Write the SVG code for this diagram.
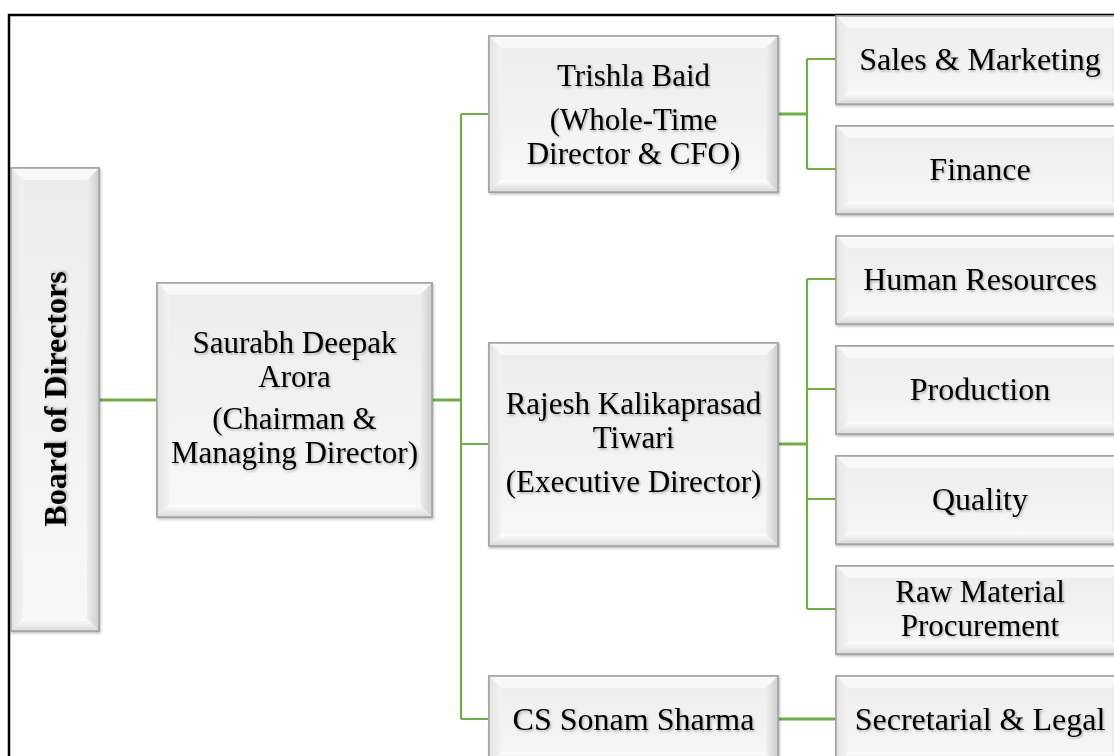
<svg xmlns="http://www.w3.org/2000/svg" width="1114" height="756" viewBox="0 0 1114 756">
<defs>
<linearGradient id="face" x1="0" y1="0" x2="0" y2="1"><stop offset="0" stop-color="#ececec"/><stop offset="1" stop-color="#f8f8f8"/></linearGradient>
<linearGradient id="bot" x1="0" y1="0" x2="0" y2="1"><stop offset="0" stop-color="#ffffff"/><stop offset="1" stop-color="#d9d9d9"/></linearGradient>
<linearGradient id="rgt" x1="0" y1="0" x2="1" y2="0"><stop offset="0" stop-color="#efefef"/><stop offset="1" stop-color="#cdcdcd"/></linearGradient>
<linearGradient id="lft" x1="0" y1="0" x2="1" y2="0"><stop offset="0" stop-color="#e4e4e4"/><stop offset="1" stop-color="#f2f2f2"/></linearGradient>
<filter id="ts" x="-10%" y="-30%" width="120%" height="160%"><feDropShadow dx="1.2" dy="1.5" stdDeviation="0.9" flood-color="#000" flood-opacity="0.3"/></filter>
<filter id="bs" x="-5%" y="-5%" width="110%" height="110%"><feDropShadow dx="1" dy="1.5" stdDeviation="1.2" flood-color="#000" flood-opacity="0.25"/></filter>
</defs>
<style>
.box{fill:url(#face);stroke:#a3a3a3;stroke-width:1.5}
.t{fill:#f8f8f8}.l{fill:url(#lft)}.r{fill:url(#rgt)}.b{fill:url(#bot)}
.txt{font-family:"Liberation Serif","Times New Roman",serif;font-size:32px;fill:#000;text-anchor:middle;filter:url(#ts)}
.tight{font-size:31px}
.bold{font-weight:bold}
.c{fill:none;stroke:#70ad47;stroke-width:2.2}
.ck{fill:none;stroke:#70ad47;stroke-width:3}
</style>
<rect width="1114" height="756" fill="#fff"/>
<path d="M9,758 V15 H1116" fill="none" stroke="#000" stroke-width="2.5"/>

<g id="connectors">
<path class="ck" d="M99,400 H157"/>
<path class="ck" d="M432,400 H461"/>
<path class="c" d="M461,114 V719 M461,114 H489 M461,444 H489 M461,719 H489"/>
<path class="ck" d="M778,114 H807"/>
<path class="c" d="M807,59 V169 M807,59 H836 M807,169 H836"/>
<path class="ck" d="M778,444 H807"/>
<path class="c" d="M807,279 V609 M807,279 H836 M807,389 H836 M807,499 H836 M807,609 H836"/>
<path class="ck" d="M778,719 H836"/>
</g>

<g id="board" filter="url(#bs)">
<rect class="box" x="11" y="168" width="88" height="463"/>
<polygon class="t" points="11,168 99,168 87,180 23,180"/>
<polygon class="l" points="11,168 23,180 23,619 11,631"/>
<polygon class="r" points="99,168 99,631 87,619 87,180"/>
<polygon class="b" points="11,631 23,619 87,619 99,631"/>
<rect x="11" y="168" width="88" height="463" fill="none" stroke="#a3a3a3" stroke-width="1.5"/>
</g>
<text class="txt bold" transform="translate(66,399) rotate(-90)">Board of Directors</text>

<g id="saurabh" filter="url(#bs)">
<rect class="box" x="157" y="283" width="275" height="234"/>
<polygon class="t" points="157,283 432,283 420,295 169,295"/>
<polygon class="l" points="157,283 169,295 169,505 157,517"/>
<polygon class="r" points="432,283 432,517 420,505 420,295"/>
<polygon class="b" points="157,517 169,505 420,505 432,517"/>
<rect x="157" y="283" width="275" height="234" fill="none" stroke="#a3a3a3" stroke-width="1.5"/>
</g>
<text class="txt tight" x="294.5" y="353">Saurabh Deepak</text>
<text class="txt tight" x="294.5" y="387">Arora</text>
<text class="txt tight" x="294.5" y="429">(Chairman &amp;</text>
<text class="txt tight" x="294.5" y="463">Managing Director)</text>

<g id="trishla" filter="url(#bs)">
<rect class="box" x="489" y="36" width="289" height="156"/>
<polygon class="t" points="489,36 778,36 766,48 501,48"/>
<polygon class="l" points="489,36 501,48 501,180 489,192"/>
<polygon class="r" points="778,36 778,192 766,180 766,48"/>
<polygon class="b" points="489,192 501,180 766,180 778,192"/>
<rect x="489" y="36" width="289" height="156" fill="none" stroke="#a3a3a3" stroke-width="1.5"/>
</g>
<text class="txt tight" x="633.5" y="86">Trishla Baid</text>
<text class="txt tight" x="633.5" y="130">(Whole-Time</text>
<text class="txt tight" x="633.5" y="164">Director &amp; CFO)</text>

<g id="rajesh" filter="url(#bs)">
<rect class="box" x="489" y="343" width="289" height="203"/>
<polygon class="t" points="489,343 778,343 766,355 501,355"/>
<polygon class="l" points="489,343 501,355 501,534 489,546"/>
<polygon class="r" points="778,343 778,546 766,534 766,355"/>
<polygon class="b" points="489,546 501,534 766,534 778,546"/>
<rect x="489" y="343" width="289" height="203" fill="none" stroke="#a3a3a3" stroke-width="1.5"/>
</g>
<text class="txt tight" x="633.5" y="414">Rajesh Kalikaprasad</text>
<text class="txt tight" x="633.5" y="448">Tiwari</text>
<text class="txt tight" x="633.5" y="492">(Executive Director)</text>

<g id="sonam" filter="url(#bs)">
<rect class="box" x="489" y="676" width="289" height="88"/>
<polygon class="t" points="489,676 778,676 766,688 501,688"/>
<polygon class="l" points="489,676 501,688 501,752 489,764"/>
<polygon class="r" points="778,676 778,764 766,752 766,688"/>
<polygon class="b" points="489,764 501,752 766,752 778,764"/>
<rect x="489" y="676" width="289" height="88" fill="none" stroke="#a3a3a3" stroke-width="1.5"/>
</g>
<text class="txt" x="633.5" y="730">CS Sonam Sharma</text>

<g id="sales" filter="url(#bs)">
<rect class="box" x="836" y="16" width="288" height="88"/>
<polygon class="t" points="836,16 1124,16 1112,28 848,28"/>
<polygon class="l" points="836,16 848,28 848,92 836,104"/>
<polygon class="r" points="1124,16 1124,104 1112,92 1112,28"/>
<polygon class="b" points="836,104 848,92 1112,92 1124,104"/>
<rect x="836" y="16" width="288" height="88" fill="none" stroke="#a3a3a3" stroke-width="1.5"/>
</g>
<text class="txt" x="980" y="70">Sales &amp; Marketing</text>

<g id="finance" filter="url(#bs)">
<rect class="box" x="836" y="126" width="288" height="88"/>
<polygon class="t" points="836,126 1124,126 1112,138 848,138"/>
<polygon class="l" points="836,126 848,138 848,202 836,214"/>
<polygon class="r" points="1124,126 1124,214 1112,202 1112,138"/>
<polygon class="b" points="836,214 848,202 1112,202 1124,214"/>
<rect x="836" y="126" width="288" height="88" fill="none" stroke="#a3a3a3" stroke-width="1.5"/>
</g>
<text class="txt" x="980" y="180">Finance</text>

<g id="hr" filter="url(#bs)">
<rect class="box" x="836" y="236" width="288" height="88"/>
<polygon class="t" points="836,236 1124,236 1112,248 848,248"/>
<polygon class="l" points="836,236 848,248 848,312 836,324"/>
<polygon class="r" points="1124,236 1124,324 1112,312 1112,248"/>
<polygon class="b" points="836,324 848,312 1112,312 1124,324"/>
<rect x="836" y="236" width="288" height="88" fill="none" stroke="#a3a3a3" stroke-width="1.5"/>
</g>
<text class="txt" x="980" y="290">Human Resources</text>

<g id="production" filter="url(#bs)">
<rect class="box" x="836" y="346" width="288" height="88"/>
<polygon class="t" points="836,346 1124,346 1112,358 848,358"/>
<polygon class="l" points="836,346 848,358 848,422 836,434"/>
<polygon class="r" points="1124,346 1124,434 1112,422 1112,358"/>
<polygon class="b" points="836,434 848,422 1112,422 1124,434"/>
<rect x="836" y="346" width="288" height="88" fill="none" stroke="#a3a3a3" stroke-width="1.5"/>
</g>
<text class="txt" x="980" y="400">Production</text>

<g id="quality" filter="url(#bs)">
<rect class="box" x="836" y="456" width="288" height="88"/>
<polygon class="t" points="836,456 1124,456 1112,468 848,468"/>
<polygon class="l" points="836,456 848,468 848,532 836,544"/>
<polygon class="r" points="1124,456 1124,544 1112,532 1112,468"/>
<polygon class="b" points="836,544 848,532 1112,532 1124,544"/>
<rect x="836" y="456" width="288" height="88" fill="none" stroke="#a3a3a3" stroke-width="1.5"/>
</g>
<text class="txt" x="980" y="510">Quality</text>

<g id="rawmaterial" filter="url(#bs)">
<rect class="box" x="836" y="566" width="288" height="88"/>
<polygon class="t" points="836,566 1124,566 1112,578 848,578"/>
<polygon class="l" points="836,566 848,578 848,642 836,654"/>
<polygon class="r" points="1124,566 1124,654 1112,642 1112,578"/>
<polygon class="b" points="836,654 848,642 1112,642 1124,654"/>
<rect x="836" y="566" width="288" height="88" fill="none" stroke="#a3a3a3" stroke-width="1.5"/>
</g>
<text class="txt tight" x="980" y="602">Raw Material</text>
<text class="txt tight" x="980" y="636">Procurement</text>

<g id="secretarial" filter="url(#bs)">
<rect class="box" x="836" y="676" width="288" height="88"/>
<polygon class="t" points="836,676 1124,676 1112,688 848,688"/>
<polygon class="l" points="836,676 848,688 848,752 836,764"/>
<polygon class="r" points="1124,676 1124,764 1112,752 1112,688"/>
<polygon class="b" points="836,764 848,752 1112,752 1124,764"/>
<rect x="836" y="676" width="288" height="88" fill="none" stroke="#a3a3a3" stroke-width="1.5"/>
</g>
<text class="txt" x="980" y="730">Secretarial &amp; Legal</text>
</svg>
